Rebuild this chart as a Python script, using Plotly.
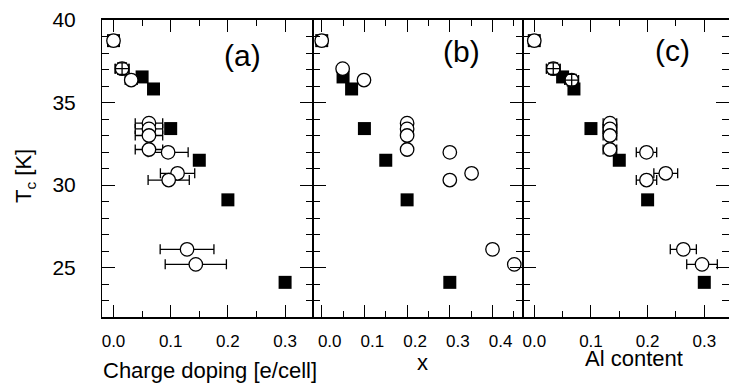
import plotly.graph_objects as go

# ---------------- data ----------------
# filled squares (same Tc in all three panels)
sq_x = [0.0, 0.05, 0.07, 0.10, 0.15, 0.20, 0.30]
sq_tc = [38.75, 36.55, 35.82, 33.42, 31.5, 29.1, 24.1]

# open circles: Tc values
circ_tc = [38.75, 37.05, 36.36, 33.75, 33.4, 33.0, 32.15, 31.98, 30.71, 30.3, 26.1, 25.19]
# panel (a): charge doping [e/cell]
a_x = [0.0, 0.015, 0.031, 0.062, 0.062, 0.062, 0.062, 0.0955, 0.112, 0.0965, 0.1286, 0.1439]
a_xerr = [0.0, 0.012, 0.0105, 0.024, 0.024, 0.024, 0.024, 0.035, 0.030, 0.036, 0.047, 0.0535]
# panel (b): x
b_x = [0.0, 0.049, 0.099, 0.20, 0.20, 0.20, 0.20, 0.30, 0.351, 0.30, 0.40, 0.451]
# panel (c): Al content
c_x = [0.0, 0.0335, 0.066, 0.1335, 0.1335, 0.1335, 0.1335, 0.198, 0.232, 0.198, 0.263, 0.296]
c_xerr = [0.0, 0.012, 0.012, 0.012, 0.012, 0.012, 0.012, 0.018, 0.021, 0.018, 0.023, 0.027]
# points whose error bars are drawn over the open circle, and their Tc error
cross_a = [1]
cross_c = [1, 2]
tc_err = 0.35

panel_labels = ["(a)", "(b)", "(c)"]
x_titles = ["Charge doping [e/cell]", "x", "Al content"]
y_title = "T<sub>c</sub> [K]"

# ---------------- figure ----------------
FONT = "Liberation Sans, Arial, Helvetica, sans-serif"
W, H = 729, 388
ML, MR, MT, MB = 102, 0, 20, 71
PW, PH = W - ML - MR, H - MT - MB

def px2paper_x(px):
    return (px - ML) / PW

def px2paper_y(py):
    return (H - MB - py) / PH

fig = go.Figure()

sq_style = dict(symbol="square", size=13, color="black", line=dict(width=0))
ci_style = dict(symbol="circle", size=13.5, color="white", line=dict(color="black", width=1.3))
err_style = dict(color="black", thickness=1.3, width=5)

panels = [
    ("x", "y", a_x, a_xerr, cross_a),
    ("x2", "y2", b_x, None, []),
    ("x3", "y3", c_x, c_xerr, cross_c),
]

for xa, ya, cx, cerr, cross in panels:
    fig.add_trace(go.Scatter(x=sq_x, y=sq_tc, mode="markers", marker=sq_style,
                             xaxis=xa, yaxis=ya, showlegend=False, hoverinfo="skip"))
    tr = dict(x=cx, y=circ_tc, mode="markers", marker=ci_style,
              xaxis=xa, yaxis=ya, showlegend=False, hoverinfo="skip")
    if cerr is not None:
        tr["error_x"] = dict(type="data", array=cerr, visible=True, **err_style)
    fig.add_trace(go.Scatter(**tr))
    if cross:
        fig.add_trace(go.Scatter(
            x=[cx[i] for i in cross], y=[circ_tc[i] for i in cross], mode="markers",
            marker=dict(size=1, color="rgba(0,0,0,0)"),
            error_x=dict(type="data", array=[cerr[i] for i in cross], visible=True, **err_style),
            error_y=dict(type="data", array=[tc_err for _ in cross], visible=True, **err_style),
            xaxis=xa, yaxis=ya, showlegend=False, hoverinfo="skip"))

b1 = 211 / PW
b2 = 421 / PW
domains = [[0, b1], [b1, b2], [b2, 1.0]]
ranges = [[-0.0201, 0.3488], [-0.0204, 0.4714], [-0.0199, 0.3436]]
shifts = [0, 8, 0]

axis_common = dict(showline=True, linecolor="black", mirror="ticks",
                   ticks="inside", tickcolor="black", tickwidth=1.3, showgrid=False,
                   zeroline=False, fixedrange=True)

for i in range(3):
    key = "xaxis" if i == 0 else f"xaxis{i+1}"
    fig.layout[key] = dict(
        domain=domains[i], range=ranges[i], anchor="y" if i == 0 else f"y{i+1}",
        tickmode="linear", tick0=0, dtick=0.1, tickformat=".1f", ticklen=12,
        minor=dict(ticks="inside", ticklen=6, dtick=0.05, tick0=0, tickcolor="black", tickwidth=1.3),
        tickfont=dict(family=FONT, size=17, color="black"), ticklabelshift=shifts[i],
        ticklabelstandoff=8, linewidth=1.5,
        **axis_common)
    ykey = "yaxis" if i == 0 else f"yaxis{i+1}"
    fig.layout[ykey] = dict(
        domain=[0, 1], range=[22, 40], anchor="x" if i == 0 else f"x{i+1}",
        tickmode="linear", tick0=0, dtick=5, ticklen=13,
        minor=dict(ticks="inside", ticklen=7, dtick=1, tick0=0, tickcolor="black", tickwidth=1.3),
        showticklabels=(i == 0), tickfont=dict(family=FONT, size=21, color="black"),
        ticklabelstandoff=21, linewidth=1,
        **axis_common)

ann = []
label_pos = [(242.5, 55), (461.7, 51.7), (672.5, 50)]
for lab, (px, py) in zip(panel_labels, label_pos):
    ann.append(dict(text=lab, x=px2paper_x(px), y=px2paper_y(py), xref="paper", yref="paper",
                    xanchor="center", yanchor="middle", showarrow=False,
                    font=dict(family=FONT, size=30, color="black")))
title_pos = [(210, 370), (422, 362), (634, 358)]
for t, (px, py) in zip(x_titles, title_pos):
    ann.append(dict(text=t, x=px2paper_x(px), y=px2paper_y(py), xref="paper", yref="paper",
                    xanchor="center", yanchor="middle", showarrow=False,
                    font=dict(family=FONT, size=22, color="black")))
ann.append(dict(text=y_title, x=px2paper_x(25), y=px2paper_y(176), xref="paper", yref="paper",
                xanchor="center", yanchor="middle", showarrow=False, textangle=-90,
                font=dict(family=FONT, size=22, color="black")))

fig.update_layout(width=W, height=H, margin=dict(l=ML, r=MR, t=MT, b=MB, pad=0),
                  paper_bgcolor="white", plot_bgcolor="white", annotations=ann,
                  showlegend=False)

fig.write_html("out.html", config={"displayModeBar": False})
